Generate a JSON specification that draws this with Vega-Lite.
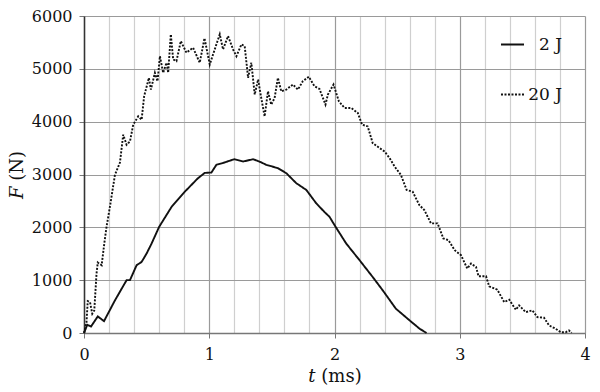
{
  "$schema": "https://vega.github.io/schema/vega-lite/v6.json",
  "width": 501,
  "height": 317,
  "autosize": "none",
  "padding": {"left": 84, "top": 16, "right": 15, "bottom": 59},
  "background": "white",
  "config": {
    "view": {"stroke": null},
    "font": "DejaVu Serif",
    "axis": {"labelFont": "DejaVu Serif", "titleFont": "DejaVu Serif", "labelFontSize": 16, "titleFontSize": 18, "titleFontWeight": "normal", "labelColor": "#111", "titleColor": "#111"},
    "legend": {"labelFont": "DejaVu Serif", "labelFontSize": 17, "labelColor": "#111"}
  },
  "data": {"values": [
    {"t": 0, "F": 0, "s": "2 J"},
    {"t": 0.026, "F": 155, "s": "2 J"},
    {"t": 0.056, "F": 123, "s": "2 J"},
    {"t": 0.11, "F": 313, "s": "2 J"},
    {"t": 0.16, "F": 225, "s": "2 J"},
    {"t": 0.247, "F": 617, "s": "2 J"},
    {"t": 0.34, "F": 1000, "s": "2 J"},
    {"t": 0.367, "F": 1000, "s": "2 J"},
    {"t": 0.42, "F": 1283, "s": "2 J"},
    {"t": 0.46, "F": 1345, "s": "2 J"},
    {"t": 0.5, "F": 1505, "s": "2 J"},
    {"t": 0.54, "F": 1695, "s": "2 J"},
    {"t": 0.6, "F": 2010, "s": "2 J"},
    {"t": 0.7, "F": 2390, "s": "2 J"},
    {"t": 0.805, "F": 2675, "s": "2 J"},
    {"t": 0.91, "F": 2930, "s": "2 J"},
    {"t": 0.964, "F": 3030, "s": "2 J"},
    {"t": 1.017, "F": 3037, "s": "2 J"},
    {"t": 1.057, "F": 3183, "s": "2 J"},
    {"t": 1.12, "F": 3226, "s": "2 J"},
    {"t": 1.2, "F": 3290, "s": "2 J"},
    {"t": 1.27, "F": 3245, "s": "2 J"},
    {"t": 1.35, "F": 3290, "s": "2 J"},
    {"t": 1.4, "F": 3245, "s": "2 J"},
    {"t": 1.456, "F": 3183, "s": "2 J"},
    {"t": 1.548, "F": 3120, "s": "2 J"},
    {"t": 1.615, "F": 3025, "s": "2 J"},
    {"t": 1.695, "F": 2835, "s": "2 J"},
    {"t": 1.775, "F": 2708, "s": "2 J"},
    {"t": 1.854, "F": 2455, "s": "2 J"},
    {"t": 1.92, "F": 2290, "s": "2 J"},
    {"t": 1.96, "F": 2200, "s": "2 J"},
    {"t": 2.0, "F": 2043, "s": "2 J"},
    {"t": 2.093, "F": 1695, "s": "2 J"},
    {"t": 2.2, "F": 1378, "s": "2 J"},
    {"t": 2.305, "F": 1060, "s": "2 J"},
    {"t": 2.385, "F": 808, "s": "2 J"},
    {"t": 2.49, "F": 460, "s": "2 J"},
    {"t": 2.6, "F": 238, "s": "2 J"},
    {"t": 2.68, "F": 80, "s": "2 J"},
    {"t": 2.735, "F": 0, "s": "2 J"},

    {"t": 0, "F": 0, "s": "20 J"},
    {"t": 0.02, "F": 205, "s": "20 J"},
    {"t": 0.03, "F": 604, "s": "20 J"},
    {"t": 0.048, "F": 585, "s": "20 J"},
    {"t": 0.066, "F": 365, "s": "20 J"},
    {"t": 0.082, "F": 427, "s": "20 J"},
    {"t": 0.1, "F": 1125, "s": "20 J"},
    {"t": 0.11, "F": 1334, "s": "20 J"},
    {"t": 0.141, "F": 1283, "s": "20 J"},
    {"t": 0.162, "F": 1695, "s": "20 J"},
    {"t": 0.18, "F": 2010, "s": "20 J"},
    {"t": 0.207, "F": 2390, "s": "20 J"},
    {"t": 0.247, "F": 2993, "s": "20 J"},
    {"t": 0.287, "F": 3226, "s": "20 J"},
    {"t": 0.313, "F": 3753, "s": "20 J"},
    {"t": 0.34, "F": 3563, "s": "20 J"},
    {"t": 0.367, "F": 3625, "s": "20 J"},
    {"t": 0.393, "F": 3943, "s": "20 J"},
    {"t": 0.433, "F": 4100, "s": "20 J"},
    {"t": 0.46, "F": 4038, "s": "20 J"},
    {"t": 0.48, "F": 4480, "s": "20 J"},
    {"t": 0.518, "F": 4830, "s": "20 J"},
    {"t": 0.534, "F": 4608, "s": "20 J"},
    {"t": 0.566, "F": 4925, "s": "20 J"},
    {"t": 0.587, "F": 4765, "s": "20 J"},
    {"t": 0.606, "F": 5240, "s": "20 J"},
    {"t": 0.632, "F": 4925, "s": "20 J"},
    {"t": 0.659, "F": 5115, "s": "20 J"},
    {"t": 0.672, "F": 4925, "s": "20 J"},
    {"t": 0.693, "F": 5653, "s": "20 J"},
    {"t": 0.712, "F": 5178, "s": "20 J"},
    {"t": 0.738, "F": 5145, "s": "20 J"},
    {"t": 0.773, "F": 5525, "s": "20 J"},
    {"t": 0.818, "F": 5305, "s": "20 J"},
    {"t": 0.871, "F": 5400, "s": "20 J"},
    {"t": 0.924, "F": 5115, "s": "20 J"},
    {"t": 0.962, "F": 5580, "s": "20 J"},
    {"t": 1.004, "F": 5083, "s": "20 J"},
    {"t": 1.057, "F": 5463, "s": "20 J"},
    {"t": 1.084, "F": 5653, "s": "20 J"},
    {"t": 1.11, "F": 5368, "s": "20 J"},
    {"t": 1.15, "F": 5620, "s": "20 J"},
    {"t": 1.19, "F": 5368, "s": "20 J"},
    {"t": 1.217, "F": 5240, "s": "20 J"},
    {"t": 1.257, "F": 5463, "s": "20 J"},
    {"t": 1.283, "F": 5430, "s": "20 J"},
    {"t": 1.31, "F": 4830, "s": "20 J"},
    {"t": 1.336, "F": 5115, "s": "20 J"},
    {"t": 1.363, "F": 4513, "s": "20 J"},
    {"t": 1.39, "F": 4798, "s": "20 J"},
    {"t": 1.415, "F": 4450, "s": "20 J"},
    {"t": 1.442, "F": 4100, "s": "20 J"},
    {"t": 1.469, "F": 4575, "s": "20 J"},
    {"t": 1.495, "F": 4323, "s": "20 J"},
    {"t": 1.522, "F": 4450, "s": "20 J"},
    {"t": 1.548, "F": 4830, "s": "20 J"},
    {"t": 1.575, "F": 4575, "s": "20 J"},
    {"t": 1.615, "F": 4608, "s": "20 J"},
    {"t": 1.668, "F": 4703, "s": "20 J"},
    {"t": 1.708, "F": 4608, "s": "20 J"},
    {"t": 1.747, "F": 4765, "s": "20 J"},
    {"t": 1.795, "F": 4850, "s": "20 J"},
    {"t": 1.84, "F": 4670, "s": "20 J"},
    {"t": 1.88, "F": 4620, "s": "20 J"},
    {"t": 1.928, "F": 4323, "s": "20 J"},
    {"t": 1.947, "F": 4513, "s": "20 J"},
    {"t": 1.992, "F": 4703, "s": "20 J"},
    {"t": 2.035, "F": 4385, "s": "20 J"},
    {"t": 2.08, "F": 4260, "s": "20 J"},
    {"t": 2.133, "F": 4260, "s": "20 J"},
    {"t": 2.186, "F": 4165, "s": "20 J"},
    {"t": 2.22, "F": 3943, "s": "20 J"},
    {"t": 2.265, "F": 3910, "s": "20 J"},
    {"t": 2.305, "F": 3595, "s": "20 J"},
    {"t": 2.36, "F": 3500, "s": "20 J"},
    {"t": 2.4, "F": 3435, "s": "20 J"},
    {"t": 2.44, "F": 3310, "s": "20 J"},
    {"t": 2.48, "F": 3150, "s": "20 J"},
    {"t": 2.53, "F": 2993, "s": "20 J"},
    {"t": 2.576, "F": 2708, "s": "20 J"},
    {"t": 2.624, "F": 2675, "s": "20 J"},
    {"t": 2.677, "F": 2423, "s": "20 J"},
    {"t": 2.717, "F": 2328, "s": "20 J"},
    {"t": 2.77, "F": 2075, "s": "20 J"},
    {"t": 2.823, "F": 2075, "s": "20 J"},
    {"t": 2.869, "F": 1790, "s": "20 J"},
    {"t": 2.91, "F": 1757, "s": "20 J"},
    {"t": 2.96, "F": 1567, "s": "20 J"},
    {"t": 3.01, "F": 1473, "s": "20 J"},
    {"t": 3.06, "F": 1220, "s": "20 J"},
    {"t": 3.09, "F": 1315, "s": "20 J"},
    {"t": 3.13, "F": 1250, "s": "20 J"},
    {"t": 3.15, "F": 1073, "s": "20 J"},
    {"t": 3.21, "F": 1073, "s": "20 J"},
    {"t": 3.235, "F": 883, "s": "20 J"},
    {"t": 3.3, "F": 820, "s": "20 J"},
    {"t": 3.355, "F": 585, "s": "20 J"},
    {"t": 3.395, "F": 630, "s": "20 J"},
    {"t": 3.448, "F": 440, "s": "20 J"},
    {"t": 3.474, "F": 523, "s": "20 J"},
    {"t": 3.527, "F": 395, "s": "20 J"},
    {"t": 3.58, "F": 428, "s": "20 J"},
    {"t": 3.62, "F": 300, "s": "20 J"},
    {"t": 3.673, "F": 289, "s": "20 J"},
    {"t": 3.713, "F": 143, "s": "20 J"},
    {"t": 3.766, "F": 80, "s": "20 J"},
    {"t": 3.806, "F": 15, "s": "20 J"},
    {"t": 3.846, "F": 15, "s": "20 J"},
    {"t": 3.872, "F": 48, "s": "20 J"},
    {"t": 3.894, "F": 5, "s": "20 J"}
  ]},
  "mark": {"type": "line", "color": "#111", "strokeWidth": 1.9},
  "encoding": {
    "x": {
      "field": "t", "type": "quantitative",
      "scale": {"domain": [0, 4], "nice": false},
      "title": "𝑡 (ms)",
      "axis": {
        "values": [0, 0.2, 0.4, 0.6, 0.8, 1, 1.2, 1.4, 1.6, 1.8, 2, 2.2, 2.4, 2.6, 2.8, 3, 3.2, 3.4, 3.6, 3.8, 4],
        "format": ".0f",
        "labelExpr": "datum.value % 1 === 0 ? datum.label : ''",
        "grid": true,
        "gridColor": {"condition": {"test": "datum.value % 1 === 0", "value": "#9a9a9a"}, "value": "#cfcfcf"},
        "gridWidth": 1.2,
        "tickOpacity": {"condition": {"test": "datum.value % 1 === 0", "value": 1}, "value": 0},
        "tickColor": "#777",
        "tickSize": 5,
        "domainColor": "#777",
        "domainWidth": 1.5,
        "labelPadding": 8,
        "titlePadding": 5,
        "labelFlush": false
      }
    },
    "y": {
      "field": "F", "type": "quantitative",
      "scale": {"domain": [0, 6000], "nice": false},
      "title": "𝐹 (N)",
      "axis": {
        "values": [0, 1000, 2000, 3000, 4000, 5000, 6000],
        "format": "d",
        "grid": true,
        "gridColor": "#9a9a9a",
        "gridWidth": 1.2,
        "tickColor": "#777",
        "tickSize": 5,
        "domainColor": "#333",
        "domainWidth": 1.5,
        "labelPadding": 7,
        "titlePadding": 5,
        "labelFlush": false
      }
    },
    "strokeDash": {
      "field": "s", "type": "nominal",
      "scale": {"domain": ["2 J", "20 J"], "range": [[1, 0], [2, 1.5]]},
      "legend": {
        "title": null,
        "orient": "none",
        "legendX": 416,
        "legendY": 16,
        "symbolType": "stroke",
        "symbolSize": 530,
        "symbolStrokeWidth": 1.8,
        "symbolStrokeColor": "#111",
        "rowPadding": 29,
        "labelAlign": "right",
        "labelOffset": 37
      }
    }
  }
}
